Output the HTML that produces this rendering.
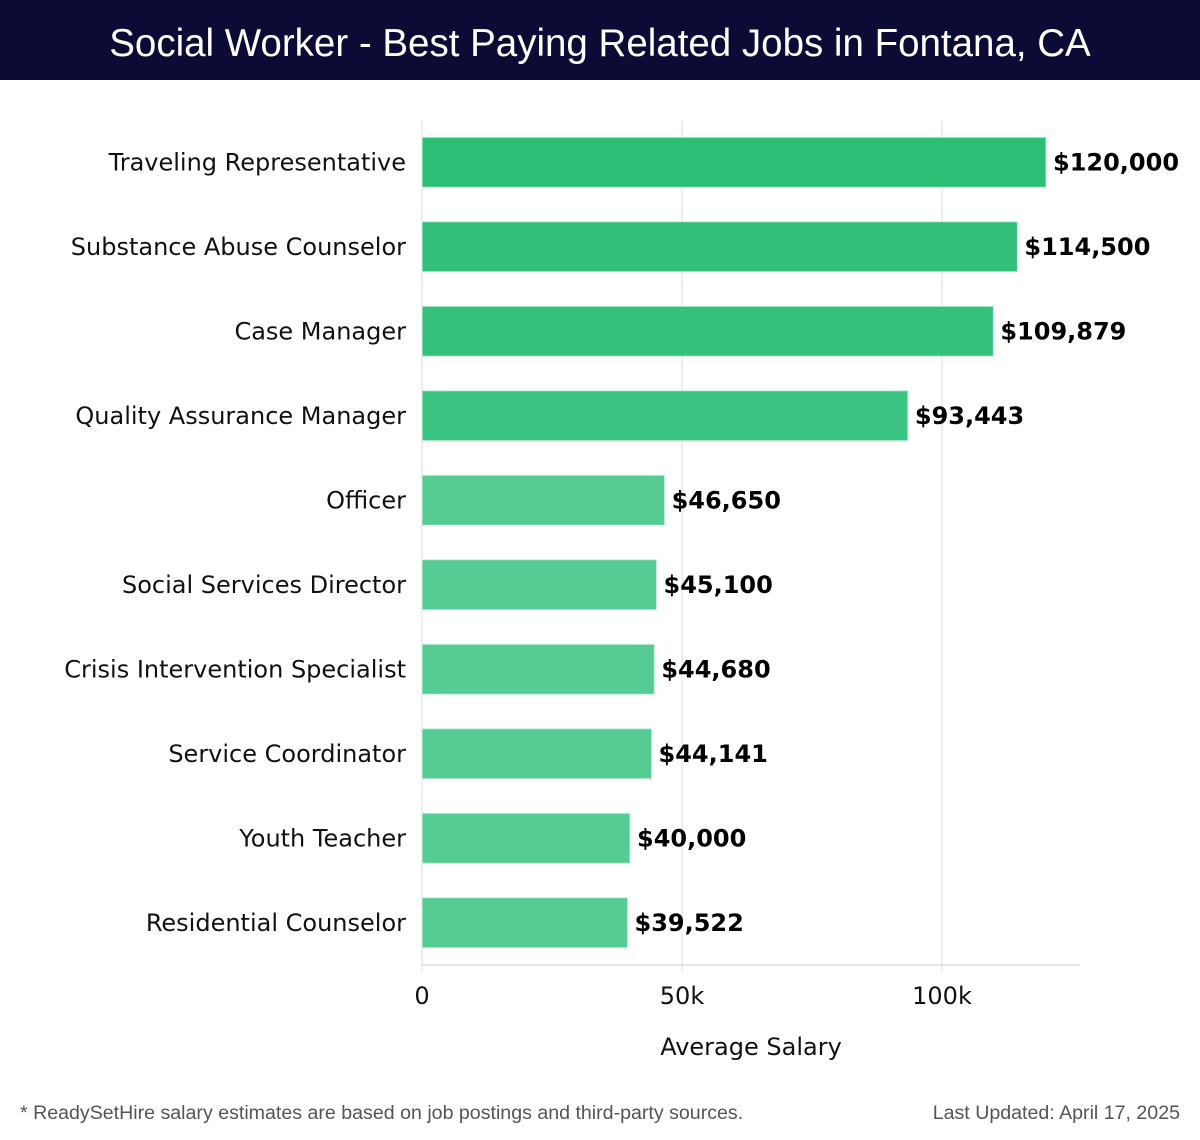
<!DOCTYPE html>
<html><head><meta charset="utf-8">
<style>
body{margin:0;width:1200px;height:1140px;background:#fff;overflow:hidden;font-family:"DejaVu Sans","Liberation Sans",sans-serif;}
#hdr{position:absolute;left:0;top:0;width:1200px;height:80px;background:#0b0b35;color:#fff;font-family:"Liberation Sans",sans-serif;font-size:38.5px;text-align:center;line-height:88px;}
</style></head><body>
<div id="hdr">Social Worker - Best Paying Related Jobs in Fontana, CA</div>
<svg id="chart" width="1200" height="1140" style="position:absolute;left:0;top:0"></svg>
<script>
const categories=["Traveling Representative","Substance Abuse Counselor","Case Manager","Quality Assurance Manager","Officer","Social Services Director","Crisis Intervention Specialist","Service Coordinator","Youth Teacher","Residential Counselor"];
const salaries=[120000,114500,109879,93443,46650,45100,44680,44141,40000,39522];
const valueLabels=["$120,000","$114,500","$109,879","$93,443","$46,650","$45,100","$44,680","$44,141","$40,000","$39,522"];
const tickValues=[0,50000,100000];
const tickLabels=["0","50k","100k"];

const NS="http://www.w3.org/2000/svg";
const svg=document.getElementById('chart');
const x0=422,pxPerUnit=5.2/1000,plotTop=120,band=84.5,barH=50;
const xs=v=>x0+v*pxPerUnit;
const yc=i=>plotTop+band*i+band/2;
function mk(tag,attrs,text){const e=document.createElementNS(NS,tag);for(const k in attrs)e.setAttribute(k,attrs[k]);if(text!==undefined)e.textContent=text;svg.appendChild(e);return e;}
tickValues.forEach((t,i)=>{
  const g=mk('line',{x1:xs(t),x2:xs(t),y1:plotTop,y2:972,stroke:'#dddddd','stroke-width':1});
  
  
  const tl=mk('text',{x:xs(t),y:1004,'text-anchor':'middle','font-size':24,fill:'#111'},tickLabels[i]);
  
  
});
const ax=mk('line',{x1:x0,x2:1080,y1:965,y2:965,stroke:'#cccccc','stroke-width':1});


categories.forEach((c,i)=>{
  const y=yc(i);
  const col=i<4?['#2dbe76','#31bf79','#35c17c','#3cc482'][i]:'#55cc94';
  const r=mk('rect',{x:x0,y:y-barH/2,width:xs(salaries[i])-x0,height:barH,fill:col,stroke:'#c8eedb','stroke-width':1});
  
  
  const l=mk('text',{x:406,y:y+8,'text-anchor':'end','font-size':24,fill:'#111'},c);
  
  
  const v=mk('text',{x:xs(salaries[i])+7,y:y+8,'font-size':24,'font-weight':'bold',fill:'#000'},valueLabels[i]);
  
  
});
const at=mk('text',{x:751,y:1055,'text-anchor':'middle','font-size':24,fill:'#111'},'Average Salary');


const fn=mk('text',{x:20,y:1119,'font-size':19.6,fill:'#555','font-family':'Liberation Sans, sans-serif'},'* ReadySetHire salary estimates are based on job postings and third-party sources.');


const lu=mk('text',{x:1180,y:1119,'text-anchor':'end','font-size':19.6,fill:'#555','font-family':'Liberation Sans, sans-serif'},'Last Updated: April 17, 2025');


</script>
</body></html>
